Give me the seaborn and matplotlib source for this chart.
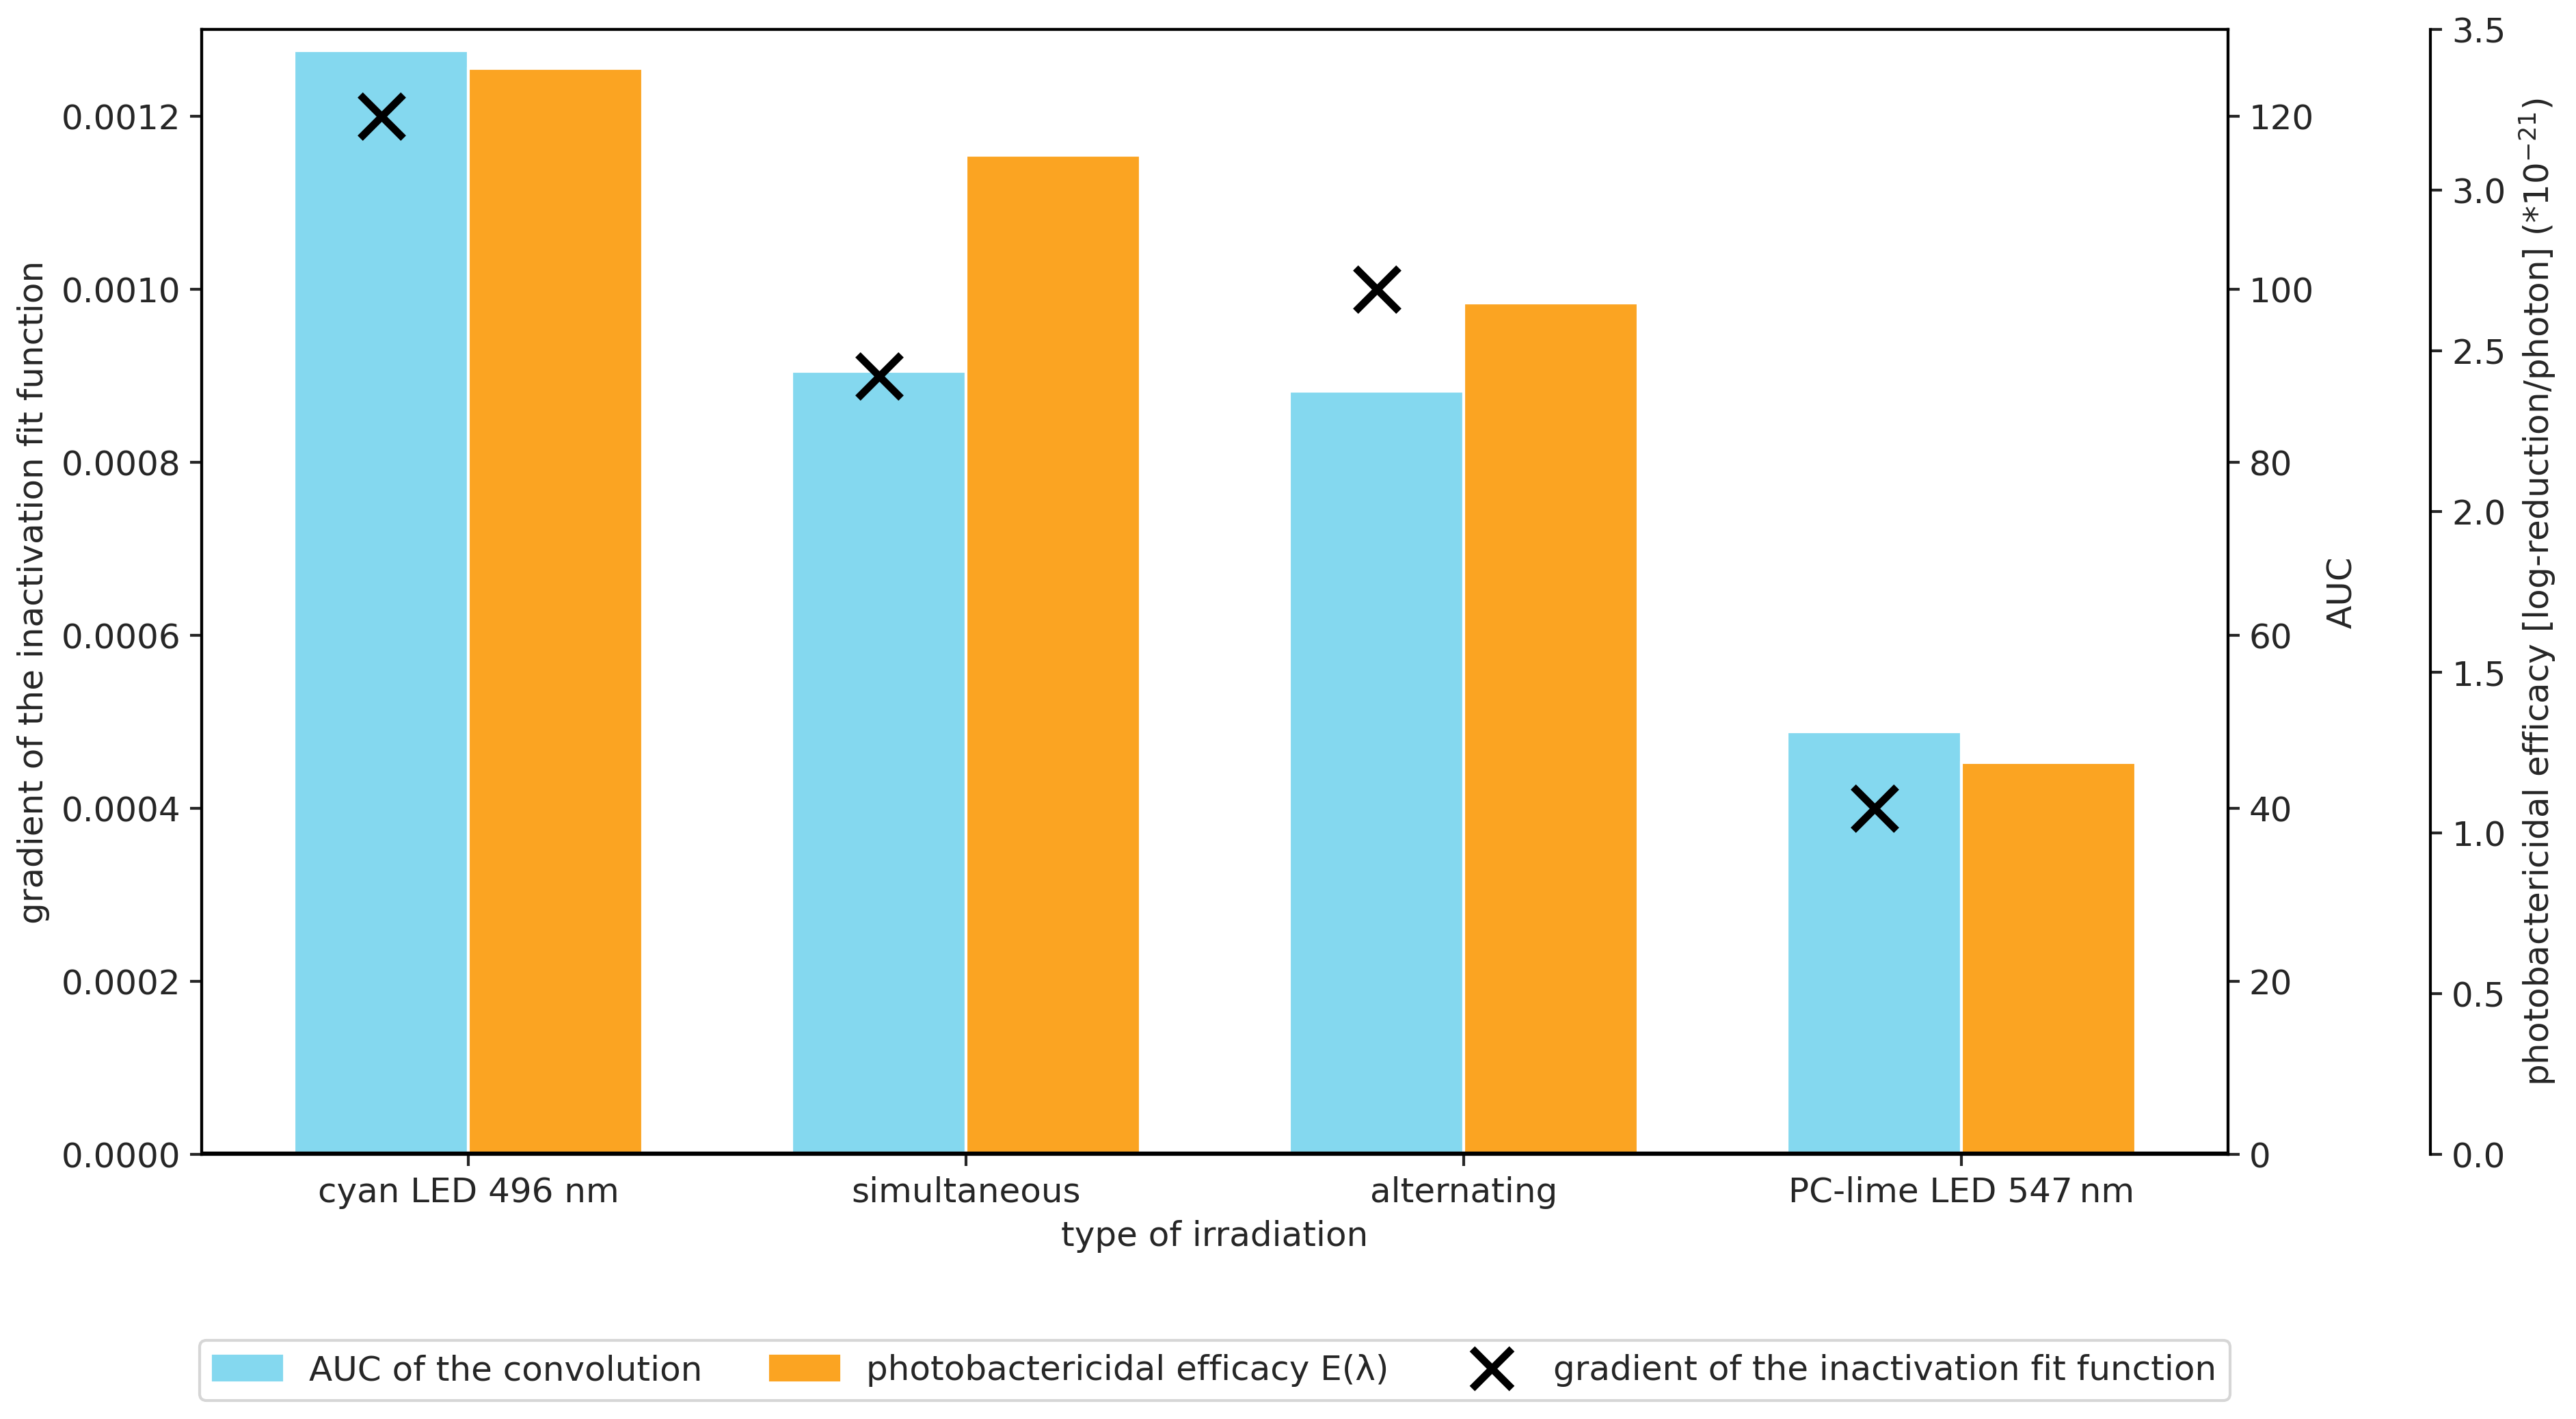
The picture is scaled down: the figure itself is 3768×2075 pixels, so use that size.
import matplotlib
matplotlib.use("Agg")
import matplotlib.pyplot as plt
import matplotlib.lines as mlines
import matplotlib.patches as mpatches
import seaborn as sns
import pandas as pd

# data
irradiation = ["cyan LED 496 nm", "simultaneous", "alternating", "PC-lime LED 547\u2009nm"]
auc_values = [127.6, 90.5, 88.2, 48.9]
efficacy_values = [3.38, 3.11, 2.65, 1.22]
gradient_values = [0.0012, 0.0009, 0.0010, 0.0004]

series_names = ["AUC of the convolution", "photobactericidal efficacy E(\u03bb)"]
gradient_name = "gradient of the inactivation fit function"
colors = {series_names[0]: "#84D8EF", series_names[1]: "#FBA422"}

sns.set_style("white")
plt.rcParams["font.family"] = ["DejaVu Sans"]
plt.rcParams["font.size"] = 12

auc_df = pd.DataFrame({"irradiation": irradiation, "value": auc_values, "series": series_names[0]})
eff_df = pd.DataFrame({"irradiation": irradiation, "value": efficacy_values, "series": series_names[1]})

fig, ax = plt.subplots(figsize=(12.56, 6.917), dpi=300)
fig.subplots_adjust(left=0.0784, right=0.8648, bottom=0.1863, top=0.979)

ax_auc = ax.twinx()
ax_eff = ax.twinx()
ax_eff.spines["right"].set_position(("axes", 1.1))

# bars on the two twin axes, dodged with the same hue order so they sit side by side
sns.barplot(data=auc_df, x="irradiation", y="value", hue="series", hue_order=series_names,
            palette=colors, width=0.7, saturation=1, dodge=True, ax=ax_auc, legend=False,
            order=irradiation)
sns.barplot(data=eff_df, x="irradiation", y="value", hue="series", hue_order=series_names,
            palette=colors, width=0.7, saturation=1, dodge=True, ax=ax_eff, legend=False,
            order=irradiation)

# crosses on the primary axis, centred on the cyan bars
grad_df = pd.DataFrame({"pos": [i - 0.175 for i in range(len(irradiation))], "value": gradient_values})
sns.scatterplot(data=grad_df, x="pos", y="value", marker="x", s=230, color="black",
                linewidth=2.6, ax=ax, zorder=5)
ax.set_zorder(ax_eff.get_zorder() + 1)
ax.patch.set_visible(False)

ax.set_xlim(-0.535, 3.535)
ax.set_xticks(range(len(irradiation)))
ax.set_xticklabels(irradiation)
ax.set_ylim(0, 0.0013)
ax.set_yticks([0, 0.0002, 0.0004, 0.0006, 0.0008, 0.0010, 0.0012])
ax.set_yticklabels(["0.0000", "0.0002", "0.0004", "0.0006", "0.0008", "0.0010", "0.0012"])
ax.set_xlabel("type of irradiation")
ax.set_ylabel("gradient of the inactivation fit function")
ax.axhline(0, color="black", linewidth=2.2, zorder=6)
ax.tick_params(axis="both", direction="out", length=4, width=1, left=True, bottom=True)

ax_auc.set_ylim(0, 130)
ax_auc.set_yticks(range(0, 121, 20))
ax_auc.set_ylabel("AUC")
ax_auc.set_xlabel("")
ax_auc.tick_params(axis="y", direction="out", length=4, width=1, right=True)

ax_eff.set_ylim(0, 3.5)
ax_eff.set_yticks([0.0, 0.5, 1.0, 1.5, 2.0, 2.5, 3.0, 3.5])
ax_eff.set_ylabel("photobactericidal efficacy [log-reduction/photon] (*10$^{-21}$)")
ax_eff.set_xlabel("")
ax_eff.tick_params(axis="y", direction="out", length=4, width=1, right=True)
ax_eff.spines["top"].set_visible(False)
ax_eff.spines["left"].set_visible(False)
ax_eff.spines["bottom"].set_visible(False)

for a in (ax, ax_auc, ax_eff):
    a.set_xlim(-0.535, 3.535)
    for sp in a.spines.values():
        sp.set_color("black")
        sp.set_linewidth(1.0)

handles = [
    mpatches.Patch(color=colors[series_names[0]], label=series_names[0]),
    mpatches.Patch(color=colors[series_names[1]], label=series_names[1]),
    mlines.Line2D([], [], color="black", marker="x", linestyle="None", markersize=14,
                  markeredgewidth=2.6, label=gradient_name),
]
ax.legend(handles=handles, loc="upper center", bbox_to_anchor=(0.5, -0.15), ncol=3,
          frameon=True, fancybox=True, handlelength=2.0, columnspacing=2.0)

fig.savefig("out.png", dpi=300)
